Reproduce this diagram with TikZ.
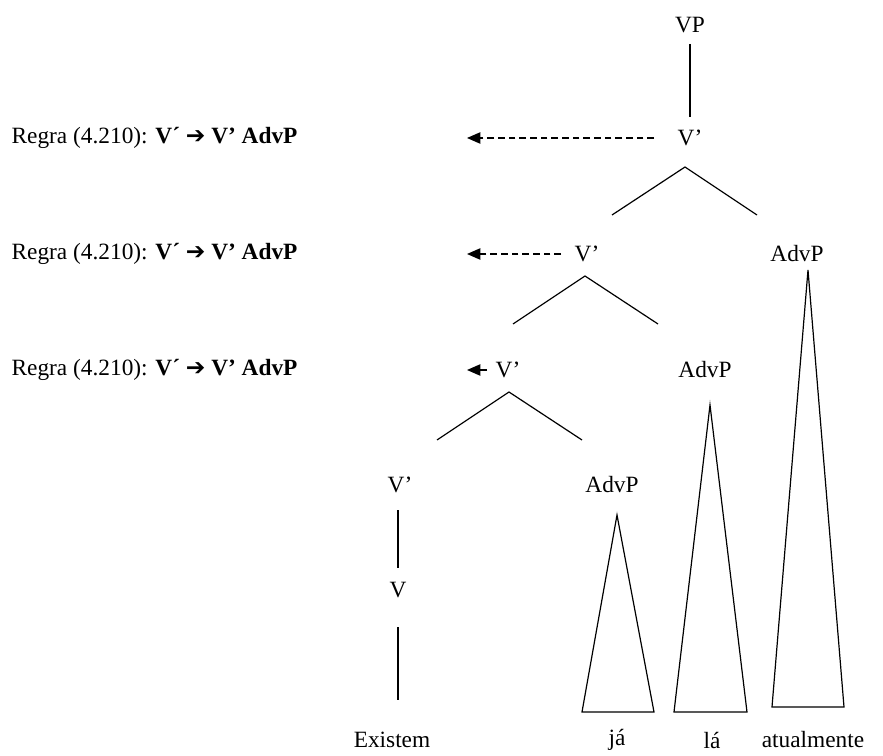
\documentclass[tikz,border=0pt]{standalone}
\usepackage{fontspec}
\setmainfont{Liberation Serif}
\newfontfamily\setafont{DejaVu Sans}
\usetikzlibrary{arrows.meta,calc}

\newcommand{\regra}{Regra (4.210): \textbf{V\textasciiacute\ {\setafont\bfseries ➔} V’ AdvP}}

\begin{document}
\begin{tikzpicture}[
        x=0.75pt, y=-0.75pt,
        every node/.style={font=\fontsize{17.5}{20}\selectfont, inner sep=1pt},
        ramo/.style={line width=0.9pt},
        seta/.style={-{Triangle[length=10pt,width=8.5pt]}, line width=0.9pt,
                     dash pattern=on 5pt off 3pt},
        rotulo/.style={anchor=west}
    ]
        \useasboundingbox (0,0) rectangle (883,756);
        % tree nodes
        \node (vp) at (690,25) {VP};
        \node (v1) at (690,138) {V’};
        \node (v2) at (587,254) {V’};
        \node (adv1) at (797,254) {AdvP};
        \node (v3) at (508,370) {V’};
        \node (adv2) at (705,370) {AdvP};
        \node (v4) at (400,485) {V’};
        \node (adv3) at (612,485) {AdvP};
        \node (v) at (398,590) {V};
        \node (w1) at (392,740) {Existem};
        \node (w2) at (617,740) {já};
        \node (w3) at (712,740) {lá};
        \node (w4) at (813,740) {atualmente};
        % rule labels
        \node[rotulo] (r1) at (10,138) {\regra};
        \node[rotulo] (r2) at (10,254) {\regra};
        \node[rotulo] (r3) at (10,370) {\regra};
        \coordinate (p1) at (467,138);
        \coordinate (p2) at (467,254);
        \coordinate (p3) at (467,370);
        \draw[seta] ($(v1.west)+(-22,0)$) -- (p1);
        \draw[seta] ($(v2.west)+(-12,0)$) -- (p2);
        \draw[seta] ($(v3.west)+(-7,0)$) -- (p3);
        % unary lines
        \draw[ramo] ($(vp)+(0,19)$) -- ($(v1)+(0,-21)$);
        \draw[ramo] ($(v4)+(-2,25)$) -- ($(v)+(0,-22)$);
        \draw[ramo] ($(v)+(0,37)$) -- ($(w1)+(6,-40)$);
        % branches
        \draw[ramo] (612,215) -- ($(v1)+(-5,29)$) -- (757,215);
        \draw[ramo] (513,324) -- ($(v2)+(-2,22)$) -- (658,324);
        \draw[ramo] (437,440) -- ($(v3)+(1,22)$) -- (582,440);
        % triangles
        \draw[ramo] ($(adv1)+(11,16)$) -- (844,707) -- (772,707) -- cycle;
        \draw[ramo] ($(adv2)+(5,35)$) -- (747,712) -- (674,712) -- cycle;
        \draw[ramo] ($(adv3)+(5,30)$) -- (654,712) -- (582,712) -- cycle;
    \end{tikzpicture}
\end{document}
